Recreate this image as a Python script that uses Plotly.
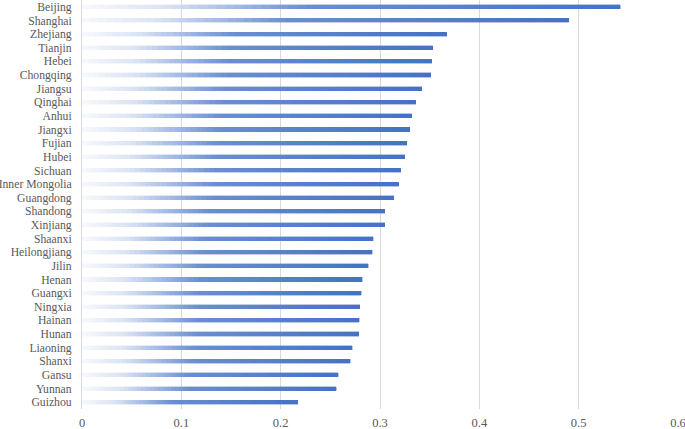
import plotly.graph_objects as go
import plotly.colors as pc

provinces = ["Beijing", "Shanghai", "Zhejiang", "Tianjin", "Hebei", "Chongqing", "Jiangsu",
             "Qinghai", "Anhui", "Jiangxi", "Fujian", "Hubei", "Sichuan", "Inner Mongolia",
             "Guangdong", "Shandong", "Xinjiang", "Shaanxi", "Heilongjiang", "Jilin", "Henan",
             "Guangxi", "Ningxia", "Hainan", "Hunan", "Liaoning", "Shanxi", "Gansu", "Yunnan",
             "Guizhou"]
values = [0.542, 0.490, 0.367, 0.353, 0.352, 0.351, 0.342, 0.336, 0.332, 0.330, 0.327,
          0.325, 0.321, 0.319, 0.314, 0.305, 0.305, 0.293, 0.292, 0.288, 0.282, 0.281,
          0.2795, 0.279, 0.2785, 0.272, 0.270, 0.258, 0.256, 0.217]
x_ticks = [0, 0.1, 0.2, 0.3, 0.4, 0.5, 0.6]
x_ticktext = ["0", "0.1", "0.2", "0.3", "0.4", "0.5", "0.6"]

gradient = [[0.0, "#F6F8FC"], [0.15, "#DCE5F4"], [0.3, "#9DB5E2"],
            [0.42, "#6A8ED0"], [1.0, "#4472C4"]]
N_SEG = 60

fig = go.Figure()
for i in range(N_SEG):
    t = (i + 0.5) / N_SEG
    color = pc.sample_colorscale(gradient, [t], colortype="rgb")[0]
    fig.add_trace(go.Bar(
        y=provinces,
        x=[v / N_SEG for v in values],
        orientation="h",
        marker=dict(color=color, line=dict(width=0.4, color=color)),
        width=0.3,
        showlegend=False,
        hoverinfo="skip",
    ))

font_family = "Liberation Serif, Times New Roman, serif"
fig.update_layout(
    barmode="stack",
    width=685, height=429,
    margin=dict(l=81.5, r=7, t=0, b=20, autoexpand=False),
    paper_bgcolor="white",
    plot_bgcolor="white",
    font=dict(family=font_family, size=11.7, color="#595959"),
    bargap=0.7,
)
fig.update_xaxes(
    range=[0, 0.6], tickvals=x_ticks, ticktext=x_ticktext,
    showgrid=True, gridcolor="#D9D9D9", gridwidth=1,
    zeroline=False, showline=False, ticks="",
    tickfont=dict(size=12.5),
    ticklabelstandoff=4, ticklabeloverflow="allow",
)
fig.update_yaxes(
    categoryorder="array", categoryarray=provinces, autorange="reversed",
    tickmode="array", tickvals=provinces, ticktext=provinces,
    showgrid=False, zeroline=False, showline=True, linecolor="#D9D9D9", linewidth=1,
    ticks="", ticklabelstandoff=7, ticklabeloverflow="allow",
)

fig.write_html(
    "out.html",
    config={"displayModeBar": False, "staticPlot": True},
    post_script="document.body.style.margin='0';document.body.style.overflow='hidden';",
)
